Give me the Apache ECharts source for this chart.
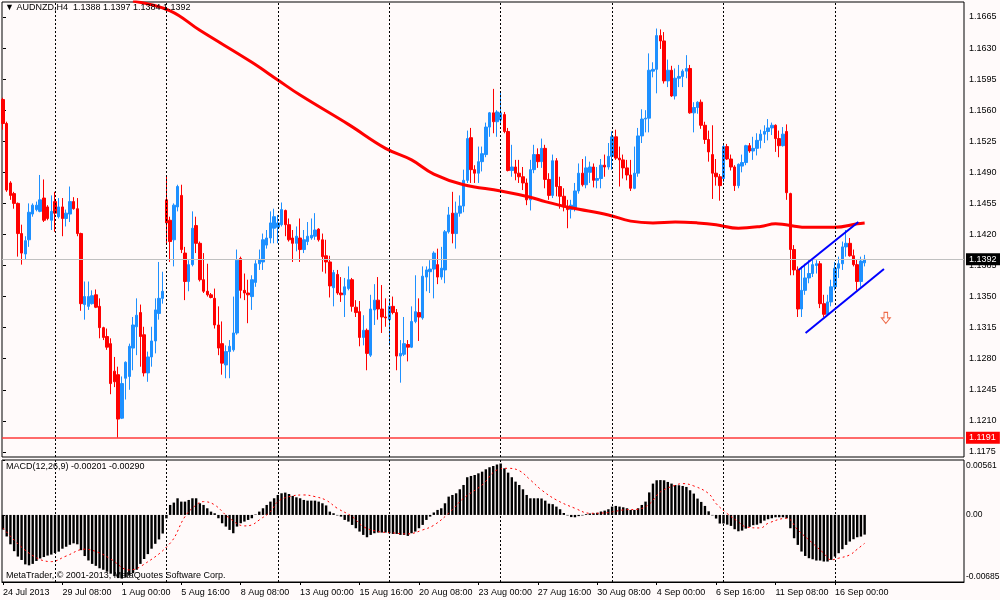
<!DOCTYPE html>
<html>
<head>
<meta charset="utf-8">
<title>AUDNZD,H4</title>
<script src="https://cdn.jsdelivr.net/npm/echarts@6/dist/echarts.min.js"></script>
<style>
html,body{margin:0;padding:0;background:#fffafa;}
#chart{width:1000px;height:600px;}
</style>
</head>
<body>
<div id="chart"></div>
<script>
// H4 bars, prices in pips (11392 = 1.1392), bar 0 = 24 Jul 2013 16:00
var opens = [
 11572,11545,11478,11466,11455,11421,11398,11414,11443,11448,
 11446,11461,11451,11436,11457,11440,11451,11438,11443,11457,
 11449,11421,11341,11339,11342,11352,11339,11315,11305,11297,
 11266,11262,11213,11258,11260,11292,11316,11332,11307,11264,
 11282,11300,11331,11348,11459,11436,11414,11451,11464,11399,
 11367,11386,11430,11410,11369,11356,11352,11348,11318,11297,
 11273,11288,11290,11309,11393,11357,11354,11350,11366,11387,
 11389,11408,11416,11427,11428,11431,11447,11431,11416,11410,
 11416,11403,11412,11416,11418,11426,11414,11396,11389,11360,
 11375,11354,11352,11359,11369,11338,11333,11304,11312,11284,
 11335,11346,11336,11327,11324,11339,11332,11283,11285,11296,
 11293,11322,11332,11326,11372,11378,11381,11386,11372,11380,
 11423,11444,11421,11444,11452,11481,11529,11493,11489,11502,
 11510,11541,11557,11547,11549,11555,11536,11492,11496,11489,
 11485,11478,11459,11493,11510,11502,11517,11482,11464,11503,
 11474,11463,11451,11448,11450,11469,11489,11476,11490,11496,
 11481,11483,11498,11496,11508,11530,11506,11504,11495,11487,
 11472,11489,11531,11550,11551,11604,11606,11644,11638,11593,
 11605,11576,11596,11598,11604,11607,11557,11563,11569,11543,
 11527,11510,11489,11485,11483,11519,11505,11496,11475,11497,
 11501,11520,11514,11517,11526,11533,11536,11540,11543,11528,
 11520,11536,11466,11403,11380,11336,11357,11371,11376,11385,
 11387,11342,11330,11344,11361,11382,11387,11406,11410,11396,
 11386,11367,11388
];
var highs = [
 11574,11547,11480,11468,11456,11431,11418,11455,11455,11457,
 11487,11482,11453,11464,11468,11461,11461,11448,11474,11462,
 11461,11422,11367,11367,11357,11358,11348,11316,11314,11303,
 11282,11271,11260,11277,11297,11327,11348,11341,11316,11288,
 11316,11348,11389,11378,11485,11440,11455,11476,11476,11406,
 11391,11446,11440,11412,11399,11387,11354,11359,11339,11322,
 11295,11301,11350,11403,11395,11376,11369,11374,11391,11403,
 11421,11425,11446,11449,11442,11456,11448,11438,11425,11429,
 11438,11425,11434,11438,11444,11427,11421,11414,11396,11380,
 11380,11372,11371,11384,11371,11346,11345,11329,11314,11352,
 11364,11372,11363,11348,11348,11350,11336,11301,11327,11301,
 11339,11374,11348,11384,11384,11391,11401,11404,11406,11425,
 11451,11468,11457,11464,11493,11537,11540,11498,11519,11519,
 11546,11558,11584,11560,11581,11558,11540,11521,11504,11504,
 11496,11483,11504,11521,11517,11528,11521,11489,11510,11506,
 11485,11472,11459,11459,11478,11500,11505,11508,11502,11500,
 11496,11505,11510,11523,11536,11538,11519,11510,11504,11504,
 11519,11540,11561,11560,11624,11614,11652,11651,11648,11617,
 11610,11607,11611,11606,11622,11611,11569,11570,11572,11547,
 11537,11543,11505,11488,11522,11522,11510,11498,11500,11510,
 11521,11523,11530,11534,11538,11543,11550,11546,11544,11537,
 11541,11544,11467,11408,11384,11384,11387,11391,11393,11391,
 11390,11352,11352,11369,11389,11395,11412,11425,11416,11403,
 11392,11395,11397
];
var lows = [
 11538,11468,11459,11449,11395,11386,11392,11406,11440,11446,
 11445,11434,11436,11425,11423,11438,11418,11429,11434,11448,
 11418,11334,11324,11335,11341,11337,11303,11301,11290,11240,
 11248,11191,11212,11234,11245,11267,11284,11271,11260,11254,
 11271,11286,11324,11342,11410,11389,11384,11446,11399,11346,
 11356,11384,11399,11367,11354,11350,11348,11314,11284,11262,
 11258,11258,11288,11307,11348,11346,11320,11335,11361,11380,
 11380,11404,11410,11410,11410,11429,11418,11412,11389,11401,
 11389,11399,11408,11414,11414,11412,11378,11376,11349,11339,
 11352,11344,11327,11357,11333,11327,11294,11295,11267,11282,
 11318,11324,11309,11316,11295,11330,11267,11253,11283,11277,
 11292,11320,11300,11324,11356,11354,11348,11364,11369,11365,
 11421,11410,11404,11440,11445,11478,11478,11478,11478,11491,
 11507,11530,11534,11530,11543,11534,11491,11485,11481,11478,
 11470,11453,11447,11489,11495,11495,11472,11459,11461,11463,
 11449,11446,11427,11438,11446,11466,11474,11472,11478,11473,
 11472,11472,11485,11493,11493,11504,11474,11483,11481,11469,
 11471,11485,11523,11535,11535,11597,11579,11629,11590,11586,
 11575,11572,11586,11586,11596,11556,11535,11556,11539,11522,
 11502,11460,11475,11458,11479,11504,11492,11469,11472,11490,
 11498,11512,11504,11509,11517,11523,11526,11532,11513,11507,
 11519,11459,11374,11374,11327,11327,11352,11365,11372,11376,
 11337,11327,11328,11339,11357,11371,11380,11395,11395,11384,
 11357,11361,11384
];
var closes = [
 11545,11470,11464,11455,11421,11399,11413,11445,11453,11453,
 11459,11436,11438,11446,11444,11451,11438,11444,11457,11449,
 11421,11342,11350,11350,11351,11338,11315,11304,11293,11252,
 11254,11212,11252,11276,11294,11318,11329,11305,11264,11282,
 11300,11335,11348,11356,11433,11412,11453,11474,11403,11367,
 11386,11427,11410,11369,11356,11352,11349,11318,11292,11275,
 11288,11294,11309,11391,11357,11354,11352,11369,11387,11392,
 11414,11416,11433,11440,11433,11448,11431,11414,11410,11418,
 11403,11414,11418,11419,11425,11414,11395,11389,11362,11377,
 11354,11352,11361,11369,11339,11332,11304,11312,11286,11336,
 11346,11336,11327,11326,11339,11332,11283,11286,11297,11293,
 11322,11333,11327,11373,11380,11381,11399,11372,11382,11423,
 11442,11421,11444,11452,11481,11528,11493,11489,11502,11511,
 11541,11557,11547,11558,11557,11536,11492,11496,11489,11485,
 11478,11459,11493,11510,11502,11517,11482,11464,11503,11474,
 11463,11451,11448,11453,11469,11489,11476,11495,11496,11481,
 11483,11498,11496,11508,11530,11506,11504,11495,11487,11472,
 11489,11531,11550,11551,11605,11606,11644,11638,11593,11605,
 11576,11596,11598,11604,11607,11557,11563,11569,11543,11527,
 11513,11489,11485,11475,11519,11505,11496,11475,11499,11501,
 11520,11514,11517,11526,11533,11536,11540,11543,11528,11520,
 11533,11467,11403,11380,11336,11357,11371,11376,11386,11387,
 11342,11330,11344,11361,11382,11387,11406,11410,11396,11386,
 11367,11390,11392
];

// MACD(12,26,9) main line per bar, in 0.00001
var macd = [
 -150,-220,-300,-370,-425,-460,-505,-515,-500,-470,
 -445,-430,-415,-405,-390,-375,-345,-325,-305,-290,
 -300,-360,-420,-465,-500,-520,-545,-560,-580,-600,
 -625,-645,-650,-640,-620,-595,-560,-500,-450,-400,
 -345,-295,-250,-190,-35,102,126,170,136,136,
 153,170,170,119,102,68,34,17,-34,-85,
 -119,-153,-187,-119,-85,-68,-51,-34,5,34,
 68,102,136,170,204,221,228,214,194,180,
 170,153,146,146,146,136,119,97,34,17,
 -5,-17,-51,-68,-102,-136,-170,-204,-228,-204,
 -187,-180,-180,-180,-187,-194,-194,-204,-204,-214,
 -187,-170,-136,-102,-51,-17,25,51,68,119,
 187,204,221,262,306,385,398,408,425,442,
 466,487,500,515,525,476,432,385,340,306,
 262,204,170,170,170,168,146,115,110,85,
 58,20,-5,-22,-24,-12,-5,8,15,17,
 22,35,44,58,85,92,85,78,68,51,
 51,68,102,136,230,320,354,356,354,337,
 320,305,303,296,286,252,218,167,133,92,
 37,-5,-37,-88,-88,-99,-112,-146,-167,-160,
 -140,-122,-105,-100,-85,-58,-44,-34,-24,-24,
 -24,-34,-136,-238,-306,-374,-419,-442,-453,-466,
 -466,-476,-476,-459,-425,-391,-350,-306,-272,-248,
 -228,-221,-201
];
// MACD signal line, read at these bars (0.00001)
var signalBars = [0,7,13,17,22,26,29,34,37,45,49,52,54,57,61,65,67,69,72,74,77,81,84,87,90,94,97,101,104,109,
 113,116,120,124,129,133,136,139,142,145,149,154,158,163,167,171,174,177,181,183,186,190,192,195,198,200,
 204,206,211,214,218,221,223,225,228,230,232];
var signalVals = [-133,-390,-477,-420,-350,-388,-450,-562,-528,-289,-17,102,136,102,-34,-112,-102,-51,34,136,
 187,204,187,150,68,-17,-119,-170,-180,-194,-153,-105,17,170,306,459,476,452,357,255,153,68,17,24,51,58,
 110,235,303,320,296,218,116,14,-71,-122,-133,-85,-34,-153,-289,-391,-459,-442,-408,-350,-290];

// red moving average, read at these bars (pips)
var maBars = [35,45,53,67,74,80,93,103,110,116,124,134,142,146,153,163,169,175,181,187,192,198,204,208,216,224,230,232];
var maVals = [11683,11672,11650,11614,11594,11577,11544,11517,11504,11488,11476,11469,11462,11457,11450,11442,
 11435,11433,11434,11433,11431,11427,11429,11432,11428,11428,11432,11433];

// drawn objects
var channelTop = [[214.2, 11380], [230.3, 11434]];
var channelBottom = [[216.1, 11309], [237.2, 11381]];
var arrowMark = [237.7, 11326];
var bidLevel = 11392;
var supportLevel = 11191;

// axes
var timeTicks = [0,16,32,48,64,80,96,112,128,144,160,176,192,208,224];
var timeLabels = ['24 Jul 2013','29 Jul 08:00','1 Aug 00:00','5 Aug 16:00','8 Aug 08:00','13 Aug 00:00',
 '15 Aug 16:00','20 Aug 08:00','23 Aug 00:00','27 Aug 16:00','30 Aug 08:00','4 Sep 00:00','6 Sep 16:00',
 '11 Sep 08:00','16 Sep 00:00'];
var weekStarts = [14,44,74,104,134,164,194,224];
var priceTicks = [1.1175,1.1210,1.1245,1.1280,1.1315,1.1350,1.1385,1.1420,1.1455,1.1490,1.1525,1.1560,1.1595,1.1630,1.1665];
var macdTicks = [0.00561, 0, -0.00685];

var P = function (v) { return v / 10000; };
var M = function (v) { return v / 100000; };
var last = opens.length - 1;
var font = "'Liberation Sans', Arial, sans-serif";

var candles = opens.map(function (o, i) {
    return [i, P(o), P(closes[i]), P(lows[i]), P(highs[i])];
});
var macdData = macd.map(function (v, i) { return [i, M(v)]; });
var signalData = signalBars.map(function (b, k) { return [b, M(signalVals[k])]; });
var maData = maBars.map(function (b, k) { return [b, P(maVals[k])]; });
var toPrice = function (pts) { return pts.map(function (p) { return [p[0], P(p[1])]; }); };

var sepLines = weekStarts.map(function (b) {
    return { xAxis: b, lineStyle: { color: '#000', type: [2, 2], width: 1 }, label: { show: false } };
});
var levelLabel = function (bg) {
    return {
        show: true, position: 'end', distance: 2, color: '#fff', backgroundColor: bg,
        padding: [2, 4, 1, 3], fontSize: 9, fontFamily: font,
        formatter: function (p) { return Number(p.value).toFixed(4); }
    };
};

var headerText = '\u25BC AUDNZD,H4  ' + [opens[last], highs[last], lows[last], closes[last]].map(function (v) {
    return P(v).toFixed(4);
}).join(' ');
var macdText = 'MACD(12,26,9) ' + M(macd[last]).toFixed(5) + ' ' + M(signalVals[signalVals.length - 1]).toFixed(5);

var myChart = echarts.init(document.getElementById('chart'));

var option = {
    backgroundColor: '#fffafa',
    animation: false,
    textStyle: { fontFamily: font },
    grid: [
        { left: 2, top: 2, width: 962, height: 455, show: true, borderColor: '#000', borderWidth: 1, outerBoundsMode: 'none' },
        { left: 2, top: 460, width: 962, height: 122, show: true, borderColor: '#000', borderWidth: 1, outerBoundsMode: 'none' }
    ],
    xAxis: [
        {
            type: 'value', gridIndex: 0, min: -0.27, max: 258.75,
            axisLine: { show: false }, axisTick: { show: false }, axisLabel: { show: false }, splitLine: { show: false }
        },
        {
            type: 'value', gridIndex: 1, min: -0.27, max: 258.75,
            axisLine: { show: true, onZero: false, lineStyle: { color: '#000' } },
            axisTick: { show: true, length: 3, customValues: timeTicks, lineStyle: { color: '#000' } },
            axisLabel: {
                customValues: timeTicks, align: 'left', margin: 6, color: '#000', fontSize: 9, fontFamily: font,
                formatter: function (v) { return timeLabels[timeTicks.indexOf(v)]; }
            },
            splitLine: { show: false }
        }
    ],
    yAxis: [
        {
            type: 'value', gridIndex: 0, position: 'right', min: 1.116927, max: 1.168188,
            axisLine: { show: false },
            axisTick: { show: true, length: 3, customValues: priceTicks, lineStyle: { color: '#000' } },
            axisLabel: {
                customValues: priceTicks, margin: 5, color: '#000', fontSize: 9, fontFamily: font,
                formatter: function (v) { return v.toFixed(4); }
            },
            splitLine: { show: false }
        },
        {
            type: 'value', gridIndex: 1, position: 'right', min: -0.00685, max: 0.00561,
            axisLine: { show: false },
            axisTick: { show: true, length: 2, customValues: macdTicks, lineStyle: { color: '#000' } },
            axisLabel: {
                customValues: macdTicks, margin: 2, color: '#000', fontSize: 8.5, fontFamily: font,
                formatter: function (v) {
                    if (v === 0) return '0.00';
                    return v > 0 ? '{t|' + v.toFixed(5) + '}' : '{b|' + v.toFixed(5) + '}';
                },
                rich: {
                    t: { padding: [11, 0, 0, 0], fontSize: 8.5, color: '#000', fontFamily: font },
                    b: { padding: [0, 0, 11, 0], fontSize: 8.5, color: '#000', fontFamily: font }
                }
            },
            splitLine: { show: false }
        }
    ],
    series: [
        {
            type: 'candlestick', xAxisIndex: 0, yAxisIndex: 0,
            dimensions: ['bar', 'open', 'close', 'lowest', 'highest'],
            encode: { x: 'bar', y: ['open', 'close', 'lowest', 'highest'] },
            data: candles,
            barWidth: 3,
            itemStyle: { color: '#1e90ff', color0: '#ff0000', borderColor: '#1e90ff', borderColor0: '#ff0000', borderWidth: 1 },
            markLine: {
                silent: true, symbol: ['none', 'none'], animation: false, precision: 4,
                data: sepLines.concat([
                    { yAxis: P(bidLevel), lineStyle: { color: '#c0c0c0', type: 'solid', width: 1 }, label: levelLabel('#000') },
                    { yAxis: P(supportLevel), lineStyle: { color: '#ff3a3a', type: 'solid', width: 1.5 }, label: levelLabel('#ff0000') }
                ])
            },
            z: 3
        },
        {
            type: 'line', xAxisIndex: 0, yAxisIndex: 0, data: maData, smooth: 0.4,
            showSymbol: false, silent: true, lineStyle: { color: '#ff0000', width: 3 }, z: 4
        },
        {
            type: 'line', xAxisIndex: 0, yAxisIndex: 0, data: toPrice(channelTop),
            showSymbol: false, silent: true, lineStyle: { color: '#0000ff', width: 2 }, z: 5
        },
        {
            type: 'line', xAxisIndex: 0, yAxisIndex: 0, data: toPrice(channelBottom),
            showSymbol: false, silent: true, lineStyle: { color: '#0000ff', width: 2 }, z: 5
        },
        {
            type: 'scatter', xAxisIndex: 0, yAxisIndex: 0, data: [[arrowMark[0], P(arrowMark[1])]],
            symbol: 'path://M3,0 L7,0 L7,6 L10,6 L5,12 L0,6 L3,6 Z', symbolSize: [9, 11], silent: true,
            itemStyle: { color: '#fffafa', borderColor: '#e8461c', borderWidth: 1 }, z: 5
        },
        {
            // histogram drawn as thin rects from zero
            type: 'custom', xAxisIndex: 1, yAxisIndex: 1, data: macdData, silent: true,
            encode: { x: 0, y: 1 },
            renderItem: function (params, api) {
                var base = api.coord([api.value(0), 0]);
                var top = api.coord([api.value(0), api.value(1)]);
                var w = 2.4;
                return {
                    type: 'rect',
                    shape: { x: base[0] - w / 2, y: Math.min(base[1], top[1]), width: w, height: Math.abs(top[1] - base[1]) },
                    style: { fill: '#000' }
                };
            },
            z: 2
        },
        {
            type: 'line', xAxisIndex: 1, yAxisIndex: 1, data: signalData, smooth: 0.4,
            showSymbol: false, silent: true, lineStyle: { color: '#ff0000', width: 1, type: [2, 3] }, z: 4,
            markLine: { silent: true, symbol: ['none', 'none'], animation: false, data: sepLines }
        }
    ],
    graphic: [
        { type: 'text', left: 5, top: 3, z: 100, style: { text: headerText, fontSize: 9, fontFamily: font, fill: '#000' } },
        { type: 'text', left: 6, top: 462, z: 100, style: { text: macdText, fontSize: 9, fontFamily: font, fill: '#000' } },
        { type: 'text', left: 6, top: 571, z: 100, style: { text: 'MetaTrader, \u00A9 2001-2013, MetaQuotes Software Corp.', fontSize: 9, fontFamily: font, fill: '#000' } }
    ]
};

myChart.setOption(option, true);
</script>
</body>
</html>
